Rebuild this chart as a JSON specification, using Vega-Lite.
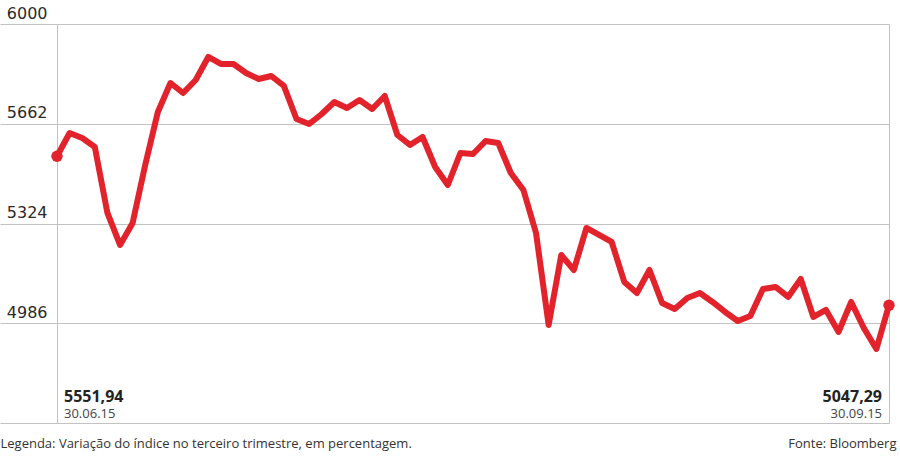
{
  "$schema": "https://vega.github.io/schema/vega-lite/v6.json",
  "width": 832,
  "height": 399,
  "autosize": {"type": "none"},
  "padding": {"left": 57, "top": 24, "right": 11, "bottom": 35},
  "background": "white",
  "config": {
    "view": {"stroke": "#c2c2c2", "strokeWidth": 1},
    "text": {"font": "Open Sans"}
  },
  "datasets": {
    "psi": [
      {"i": 0, "v": 5551.94}, {"i": 1, "v": 5630.7}, {"i": 2, "v": 5613.8}, {"i": 3, "v": 5583.3},
      {"i": 4, "v": 5359.7}, {"i": 5, "v": 5251.3}, {"i": 6, "v": 5325.8}, {"i": 7, "v": 5522.3},
      {"i": 8, "v": 5701.9}, {"i": 9, "v": 5800.1}, {"i": 10, "v": 5766.2}, {"i": 11, "v": 5810.3},
      {"i": 12, "v": 5888.2}, {"i": 13, "v": 5864.5}, {"i": 14, "v": 5864.5}, {"i": 15, "v": 5834.0},
      {"i": 16, "v": 5813.7}, {"i": 17, "v": 5823.8}, {"i": 18, "v": 5790.0}, {"i": 19, "v": 5678.1},
      {"i": 20, "v": 5661.2}, {"i": 21, "v": 5695.1}, {"i": 22, "v": 5735.7}, {"i": 23, "v": 5715.4},
      {"i": 24, "v": 5742.5}, {"i": 25, "v": 5712.0}, {"i": 26, "v": 5756.1}, {"i": 27, "v": 5623.9},
      {"i": 28, "v": 5590.1}, {"i": 29, "v": 5617.2}, {"i": 30, "v": 5515.5}, {"i": 31, "v": 5454.5},
      {"i": 32, "v": 5562.9}, {"i": 33, "v": 5559.6}, {"i": 34, "v": 5603.6}, {"i": 35, "v": 5596.8},
      {"i": 36, "v": 5495.2}, {"i": 37, "v": 5437.6}, {"i": 38, "v": 5291.9}, {"i": 39, "v": 4980.2},
      {"i": 40, "v": 5217.4}, {"i": 41, "v": 5166.6}, {"i": 42, "v": 5308.8}, {"i": 43, "v": 5285.1},
      {"i": 44, "v": 5261.4}, {"i": 45, "v": 5125.9}, {"i": 46, "v": 5088.6}, {"i": 47, "v": 5166.6},
      {"i": 48, "v": 5054.7}, {"i": 49, "v": 5034.4}, {"i": 50, "v": 5071.7}, {"i": 51, "v": 5088.6},
      {"i": 52, "v": 5058.1}, {"i": 53, "v": 5024.3}, {"i": 54, "v": 4993.8}, {"i": 55, "v": 5010.7},
      {"i": 56, "v": 5102.2}, {"i": 57, "v": 5109.0}, {"i": 58, "v": 5075.1}, {"i": 59, "v": 5136.1},
      {"i": 60, "v": 5007.3}, {"i": 61, "v": 5031.0}, {"i": 62, "v": 4956.5}, {"i": 63, "v": 5058.1},
      {"i": 64, "v": 4970.0}, {"i": 65, "v": 4898.9}, {"i": 66, "v": 5047.29}
    ],
    "ends": [
      {"i": 0, "v": 5551.94, "label": "5551,94", "date": "30.06.15", "side": "left"},
      {"i": 66, "v": 5047.29, "label": "5047,29", "date": "30.09.15", "side": "right"}
    ]
  },
  "encoding": {
    "x": {
      "field": "i", "type": "quantitative", "scale": {"domain": [0, 66], "nice": false, "zero": false},
      "axis": {
        "orient": "bottom", "domain": false, "ticks": false, "labels": false, "grid": false,
        "title": "Fonte: Bloomberg", "titleX": 839, "titleY": 24, "titleAlign": "right", "titleAnchor": "end",
        "titleBaseline": "alphabetic", "titleFont": "Open Sans", "titleFontSize": 13, "titleFontWeight": "normal",
        "titleColor": "#333333"
      }
    },
    "y": {
      "field": "v", "type": "quantitative",
      "scale": {"domain": [4648, 6000], "nice": false, "zero": false},
      "axis": {
        "orient": "left", "values": [4648, 4986, 5324, 5662, 6000], "format": "d",
        "labelExpr": "datum.value < 4700 ? '' : datum.label",
        "grid": true, "gridColor": "#c2c2c2", "gridWidth": 1,
        "ticks": true, "tickSize": 57, "tickColor": "#c2c2c2", "tickWidth": 1,
        "domain": false, "labelPadding": -47, "labelAlign": "right", "labelBaseline": "alphabetic",
        "labelOffset": -6, "labelFont": "DejaVu Sans", "labelFontSize": 16, "labelColor": "#2a2a2a",
        "labelOverlap": false, "labelBound": false, "labelFlush": false,
        "title": "Legenda: Variação do índice no terceiro trimestre, em percentagem.",
        "titleAngle": 0, "titleX": -57, "titleY": 423, "titleAlign": "left", "titleAnchor": "start",
        "titleBaseline": "alphabetic", "titleFont": "Open Sans", "titleFontSize": 13, "titleFontWeight": "normal",
        "titleColor": "#333333"
      }
    }
  },
  "layer": [
    {
      "data": {"name": "psi"},
      "mark": {"type": "line", "color": "#e3232b", "strokeWidth": 6, "strokeJoin": "round", "strokeCap": "round"}
    },
    {
      "data": {"name": "ends"},
      "mark": {"type": "point", "filled": true, "color": "#e3232b", "opacity": 1, "size": 130, "shape": "circle"}
    },
    {
      "data": {"name": "ends"},
      "transform": [{"filter": "datum.side === 'left'"}],
      "mark": {"type": "text", "fontWeight": "bold", "fontSize": 16, "color": "#222222", "baseline": "alphabetic", "align": "left", "dx": 7, "dy": -21},
      "encoding": {"y": {"datum": 4648}, "text": {"field": "label"}}
    },
    {
      "data": {"name": "ends"},
      "transform": [{"filter": "datum.side === 'right'"}],
      "mark": {"type": "text", "fontWeight": "bold", "fontSize": 16, "color": "#222222", "baseline": "alphabetic", "align": "right", "dx": -7, "dy": -21},
      "encoding": {"y": {"datum": 4648}, "text": {"field": "label"}}
    },
    {
      "data": {"name": "ends"},
      "transform": [{"filter": "datum.side === 'left'"}],
      "mark": {"type": "text", "fontSize": 13, "color": "#444444", "baseline": "alphabetic", "align": "left", "dx": 7, "dy": -5},
      "encoding": {"y": {"datum": 4648}, "text": {"field": "date"}}
    },
    {
      "data": {"name": "ends"},
      "transform": [{"filter": "datum.side === 'right'"}],
      "mark": {"type": "text", "fontSize": 13, "color": "#444444", "baseline": "alphabetic", "align": "right", "dx": -7, "dy": -5},
      "encoding": {"y": {"datum": 4648}, "text": {"field": "date"}}
    }
  ]
}
